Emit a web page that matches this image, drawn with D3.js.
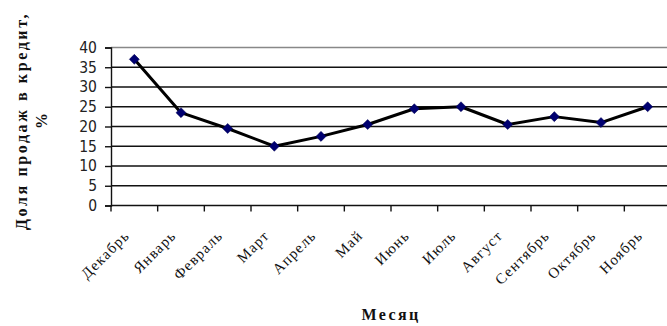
<!DOCTYPE html>
<html>
<head>
<meta charset="utf-8">
<script src="https://cdn.jsdelivr.net/npm/d3@7"></script>
<style>
  body { margin: 0; background: #fff; }
  svg { display: block; }
</style>
</head>
<body>
<svg id="chart" width="667" height="326"></svg>
<script>
// Monthly share of credit sales, %
const months = ["Декабрь", "Январь", "Февраль", "Март", "Апрель", "Май",
                "Июнь", "Июль", "Август", "Сентябрь", "Октябрь", "Ноябрь"];
const shares = [37, 23.5, 19.5, 15, 17.5, 20.5, 24.5, 25, 20.5, 22.5, 21, 25];
const yTicks = [0, 5, 10, 15, 20, 25, 30, 35, 40];

const svg = d3.select("#chart");
const margin = { left: 111, right: -4, top: 47.5, bottom: 120.5 };
const W = 667, H = 326;

const x = d3.scaleBand().domain(months).range([margin.left, W - margin.right]);
const y = d3.scaleLinear().domain([0, 40]).range([H - margin.bottom, margin.top]);

// horizontal gridlines
svg.append("g")
  .selectAll("line")
  .data(yTicks.filter(d => d > 0))
  .join("line")
  .attr("x1", margin.left).attr("x2", W)
  .attr("y1", d => y(d)).attr("y2", d => y(d))
  .attr("stroke", d => d === 40 ? "#888" : "#111")
  .attr("stroke-width", 1.4);

// y axis
const yAxis = svg.append("g")
  .attr("transform", `translate(${margin.left},0)`)
  .call(d3.axisLeft(y).tickValues(yTicks).tickSize(6).tickPadding(8));
yAxis.select(".domain").attr("stroke", "#111").attr("stroke-width", 1.4);
yAxis.selectAll(".tick line").attr("stroke", "#111").attr("stroke-width", 1.4);
yAxis.selectAll("text")
  .attr("font-family", "'Liberation Sans Narrow', 'DejaVu Sans Condensed', sans-serif")
  .attr("font-size", 15.5).attr("fill", "#222");

// x axis: ticks at category boundaries
const bounds = months.map(m => x(m));
const xAxisG = svg.append("g");
xAxisG.append("line")
  .attr("x1", margin.left).attr("x2", W)
  .attr("y1", y(0)).attr("y2", y(0))
  .attr("stroke", "#111").attr("stroke-width", 1.4);
xAxisG.selectAll("line.tk")
  .data(bounds)
  .join("line").attr("class", "tk")
  .attr("x1", d => d).attr("x2", d => d)
  .attr("y1", y(0)).attr("y2", y(0) + 6)
  .attr("stroke", "#111").attr("stroke-width", 1.4);

// rotated month labels
xAxisG.selectAll("text")
  .data(months)
  .join("text")
  .attr("transform", d => `translate(${x(d) + x.bandwidth() / 2 - 4},${y(0) + 31}) rotate(-45)`)
  .attr("text-anchor", "end")
  .attr("font-family", "'Liberation Serif', serif")
  .attr("font-size", 15)
  .attr("letter-spacing", 1.2)
  .attr("fill", "#111")
  .text(d => d);

// data line
const cx = d => x(d) + x.bandwidth() / 2;
svg.append("path")
  .datum(months.map((m, i) => [cx(m), y(shares[i])]))
  .attr("fill", "none")
  .attr("stroke", "#000")
  .attr("stroke-width", 3)
  .attr("stroke-linejoin", "round")
  .attr("d", d3.line());

// diamond markers
svg.append("g")
  .selectAll("path")
  .data(months)
  .join("path")
  .attr("transform", (d, i) => `translate(${cx(d)},${y(shares[i])})`)
  .attr("d", d3.symbol(d3.symbolDiamond2, 64))
  .attr("fill", "#000070")
  .attr("stroke", "#000050")
  .attr("stroke-width", 0.5);

// axis titles
svg.append("text")
  .attr("transform", "translate(27,121) rotate(-90)")
  .attr("text-anchor", "middle")
  .attr("font-family", "'Liberation Serif', serif")
  .attr("font-weight", "bold")
  .attr("font-size", 16)
  .attr("letter-spacing", 2.6)
  .attr("fill", "#111")
  .text("Доля продаж в кредит,");
svg.append("text")
  .attr("transform", "translate(47,121) rotate(-90)")
  .attr("text-anchor", "middle")
  .attr("font-family", "'Liberation Serif', serif")
  .attr("font-weight", "bold")
  .attr("font-size", 16)
  .attr("fill", "#111")
  .text("%");
svg.append("text")
  .attr("x", 391).attr("y", 320)
  .attr("text-anchor", "middle")
  .attr("font-family", "'Liberation Serif', serif")
  .attr("font-weight", "bold")
  .attr("font-size", 16)
  .attr("letter-spacing", 2.4)
  .attr("fill", "#111")
  .text("Месяц");
</script>
</body>
</html>
